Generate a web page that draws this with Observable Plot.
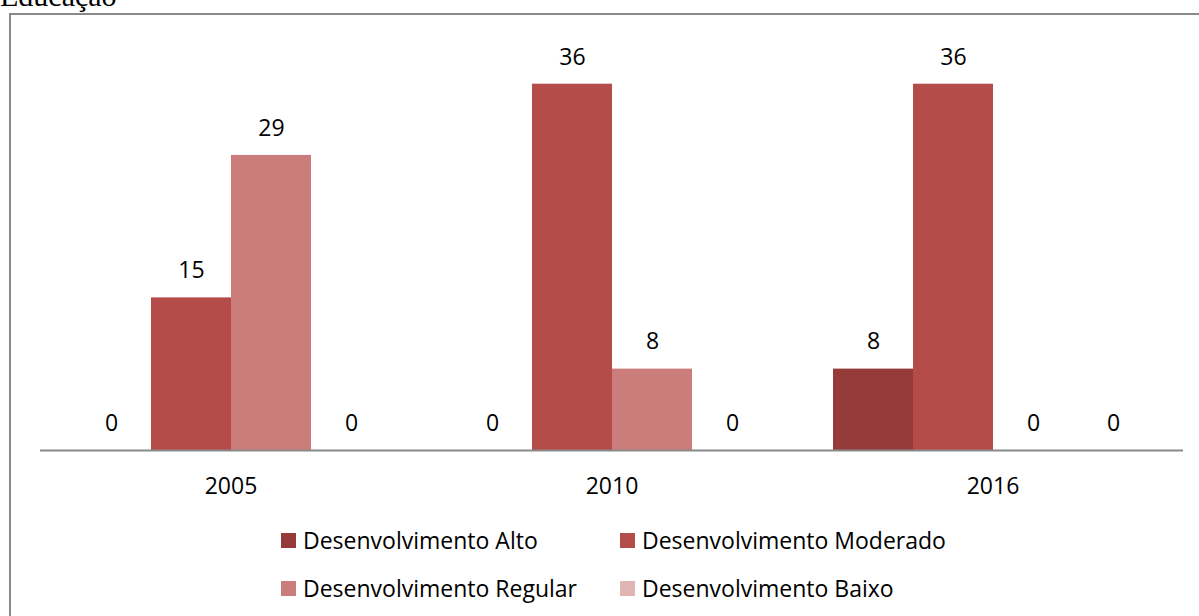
<!DOCTYPE html>
<html>
<head>
<meta charset="utf-8">
<script src="https://cdn.jsdelivr.net/npm/d3@7"></script>
<script src="https://cdn.jsdelivr.net/npm/@observablehq/plot@0.6"></script>
<style>
  html, body { margin: 0; padding: 0; background: #fff; }
  body { width: 1199px; height: 616px; overflow: hidden; position: relative; font-family: "Open Sans", Lato, sans-serif; }
  #title { position: absolute; left: 0; top: -19px; line-height: 30px; font-family: "Liberation Serif", "DejaVu Serif", serif; font-size: 30px; color: #000; }
  #frame { position: absolute; left: 9px; top: 13px; width: 1200px; height: 620px; border-left: 2px solid #8a8a8a; border-top: 2px solid #8a8a8a; box-sizing: border-box; }
  #chart { position: absolute; left: 0; top: 0; }
  #legend { position: absolute; left: 0; top: 0; width: 1199px; height: 616px; pointer-events: none; }
  .item { position: absolute; display: flex; align-items: center; font-size: 23px; line-height: 28px; color: #000; white-space: nowrap; }
  .sw { width: 15px; height: 15px; margin-right: 7px; }
</style>
</head>
<body>
<div id="title">Educação</div>
<div id="frame"></div>
<div id="chart"></div>
<div id="legend"></div>
<script>
// Education development categories per year
const years = ["2005", "2010", "2016"];
const series = ["Desenvolvimento Alto", "Desenvolvimento Moderado", "Desenvolvimento Regular", "Desenvolvimento Baixo"];
const colors = ["#953b39", "#b44c49", "#cb7d7b", "#e1b5b4"];
const alto = [0, 0, 8];
const moderado = [15, 36, 36];
const regular = [29, 8, 0];
const baixo = [0, 0, 0];

const valuesBySeries = [alto, moderado, regular, baixo];
const rows = [];
years.forEach((year, i) => {
  series.forEach((s, j) => rows.push({year, series: s, value: valuesBySeries[j][i]}));
});

const chart = Plot.plot({
  width: 1199,
  height: 510,
  marginLeft: 39,
  marginRight: 16,
  marginTop: 43,
  marginBottom: 60,
  style: {fontFamily: "'Open Sans', Lato, sans-serif", fontSize: "23px", color: "#000", background: "transparent"},
  fx: {domain: years, padding: 0, label: null, tickSize: 0, tickPadding: 27},
  x: {domain: series, paddingInner: 0, paddingOuter: 0.38, axis: null},
  y: {domain: [0, 40], axis: null},
  color: {domain: series, range: colors},
  marks: [
    Plot.barY(rows, {fx: "year", x: "series", y: "value", fill: "series"}),
    Plot.ruleY([0], {stroke: "#8a8a8a", strokeWidth: 2}),
    Plot.text(rows, {fx: "year", x: "series", y: "value", text: d => String(d.value), dy: -27, fill: "#000", fontSize: 23})
  ]
});
document.getElementById("chart").appendChild(chart);

// Legend laid out in two rows of two entries
const legend = document.getElementById("legend");
const pos = [[281, 540], [620, 540], [281, 588], [620, 588]];
series.forEach((s, i) => {
  const item = document.createElement("div");
  item.className = "item";
  item.style.left = pos[i][0] + "px";
  item.style.top = (pos[i][1] - 14) + "px";
  item.innerHTML = `<span class="sw" style="background:${colors[i]}"></span><span>${s}</span>`;
  legend.appendChild(item);
});
</script>
</body>
</html>
